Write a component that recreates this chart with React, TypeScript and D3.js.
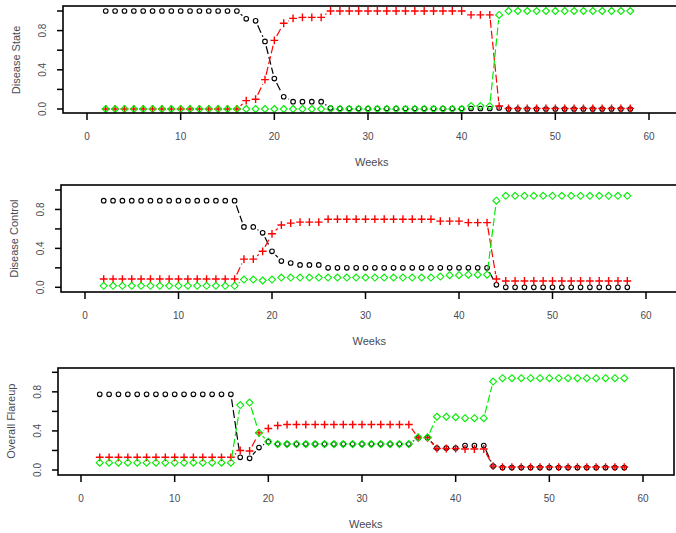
import React from 'react';
import * as d3 from 'd3';

// weeks of follow-up (x)
const weeks = [2, 3, 4, 5, 6, 7, 8, 9, 10, 11, 12, 13, 14, 15, 16, 17, 18, 19, 20, 21, 22, 23, 24, 25, 26, 27, 28, 29, 30,
    31, 32, 33, 34, 35, 36, 37, 38, 39, 40, 41, 42, 43, 44, 45, 46, 47, 48, 49, 50, 51, 52, 53, 54, 55, 56, 57, 58];

// Disease State
const stateBlack = [1, 1, 1, 1, 1, 1, 1, 1, 1, 1, 1, 1, 1, 1, 1, 0.92, 0.9, 0.69, 0.31, 0.125, 0.075, 0.075, 0.075, 0.075, 0.01,
    0.005, 0.005, 0.005, 0.005, 0.005, 0.005, 0.005, 0.005, 0.005, 0.005, 0.005, 0.005, 0.005, 0.005, 0.005, 0.005, 0.005, 0.01,
    0, 0, 0, 0, 0, 0, 0, 0, 0, 0, 0, 0, 0, 0];
const stateRed = [0, 0, 0, 0, 0, 0, 0, 0, 0, 0, 0, 0, 0, 0, 0, 0.085, 0.1, 0.3, 0.7, 0.875, 0.925, 0.935, 0.935, 0.935, 1,
    1, 1, 1, 1, 1, 1, 1, 1, 1, 1, 1, 1, 1, 1, 0.96, 0.96, 0.96, 0.03,
    0.005, 0.005, 0.005, 0.005, 0.005, 0.005, 0.005, 0.005, 0.005, 0.005, 0.005, 0.005, 0.005, 0.005];
const stateGreen = [0, 0, 0, 0, 0, 0, 0, 0, 0, 0, 0, 0, 0, 0, 0, 0, 0, 0, 0, 0, 0, 0, 0, 0, 0,
    0, 0, 0, 0, 0, 0, 0, 0, 0, 0, 0, 0, 0, 0, 0.03, 0.03, 0.03, 0.96,
    1, 1, 1, 1, 1, 1, 1, 1, 1, 1, 1, 1, 1, 1];

// Disease Control
const controlBlack = [0.89, 0.89, 0.89, 0.89, 0.89, 0.89, 0.89, 0.89, 0.89, 0.89, 0.89, 0.89, 0.89, 0.89, 0.89,
    0.62, 0.62, 0.56, 0.37, 0.27, 0.25, 0.23, 0.23, 0.23, 0.2,
    0.2, 0.2, 0.2, 0.2, 0.2, 0.2, 0.2, 0.2, 0.2, 0.2, 0.2, 0.2, 0.2, 0.2, 0.2, 0.2, 0.2, 0.025,
    0, 0, 0, 0, 0, 0, 0, 0, 0, 0, 0, 0, 0, 0];
const controlRed = [0.085, 0.085, 0.085, 0.085, 0.085, 0.085, 0.085, 0.085, 0.085, 0.085, 0.085, 0.085, 0.085, 0.085, 0.085,
    0.29, 0.29, 0.37, 0.55, 0.64, 0.66, 0.67, 0.67, 0.67, 0.7,
    0.7, 0.7, 0.7, 0.7, 0.7, 0.7, 0.7, 0.7, 0.7, 0.7, 0.7, 0.68, 0.68, 0.68, 0.665, 0.665, 0.665, 0.085,
    0.065, 0.065, 0.065, 0.065, 0.065, 0.065, 0.065, 0.065, 0.065, 0.065, 0.065, 0.065, 0.065, 0.065];
const controlGreen = [0.015, 0.015, 0.015, 0.015, 0.015, 0.015, 0.015, 0.015, 0.015, 0.015, 0.015, 0.015, 0.015, 0.015, 0.015,
    0.08, 0.08, 0.07, 0.08, 0.1, 0.1, 0.1, 0.1, 0.1, 0.1,
    0.1, 0.1, 0.1, 0.1, 0.1, 0.1, 0.1, 0.1, 0.1, 0.1, 0.1, 0.11, 0.125, 0.125, 0.13, 0.13, 0.13, 0.89,
    0.94, 0.94, 0.94, 0.94, 0.94, 0.94, 0.94, 0.94, 0.94, 0.94, 0.94, 0.94, 0.94, 0.94];

// Overall Flareup
const flareBlack = [0.775, 0.775, 0.775, 0.775, 0.775, 0.775, 0.775, 0.775, 0.775, 0.775, 0.775, 0.775, 0.775, 0.775, 0.775,
    0.13, 0.12, 0.23, 0.29, 0.265, 0.265, 0.265, 0.265, 0.265, 0.265,
    0.265, 0.265, 0.265, 0.265, 0.265, 0.265, 0.265, 0.265, 0.265, 0.33, 0.33, 0.225, 0.225, 0.225, 0.25, 0.25, 0.25, 0.04,
    0.025, 0.025, 0.025, 0.025, 0.025, 0.025, 0.025, 0.025, 0.025, 0.025, 0.025, 0.025, 0.025, 0.025];
const flareRed = [0.13, 0.13, 0.13, 0.13, 0.13, 0.13, 0.13, 0.13, 0.13, 0.13, 0.13, 0.13, 0.13, 0.13, 0.13,
    0.2, 0.195, 0.38, 0.425, 0.455, 0.465, 0.465, 0.465, 0.465, 0.465,
    0.465, 0.465, 0.465, 0.465, 0.465, 0.465, 0.465, 0.465, 0.465, 0.33, 0.33, 0.22, 0.22, 0.22, 0.215, 0.215, 0.215, 0.04,
    0.03, 0.03, 0.03, 0.03, 0.03, 0.03, 0.03, 0.03, 0.03, 0.03, 0.03, 0.03, 0.03, 0.03];
const flareGreen = [0.075, 0.075, 0.075, 0.075, 0.075, 0.075, 0.075, 0.075, 0.075, 0.075, 0.075, 0.075, 0.075, 0.075, 0.075,
    0.665, 0.69, 0.38, 0.29, 0.265, 0.265, 0.265, 0.265, 0.265, 0.265,
    0.265, 0.265, 0.265, 0.265, 0.265, 0.265, 0.265, 0.265, 0.265, 0.335, 0.335, 0.545, 0.545, 0.54, 0.53, 0.53, 0.53, 0.905,
    0.94, 0.94, 0.94, 0.94, 0.94, 0.94, 0.94, 0.94, 0.94, 0.94, 0.94, 0.94, 0.94, 0.94];

const xTicks = [0, 10, 20, 30, 40, 50, 60];
const yTicks = [0, 0.2, 0.4, 0.6, 0.8, 1];
const yTickLabels = ['0.0', '0.4', '0.8'];

const font = '"Liberation Sans", Arial, sans-serif';
const textColor = '#4a4a52';

// each panel is placed a little differently in the original scan
const panels = [
    {ylab: 'Disease State', series: [stateBlack, stateRed, stateGreen],
        box: {left: 63, top: 6, bottom: 113, right: 700}, xr: [87, 649], yr: [109, 11]},
    {ylab: 'Disease Control', series: [controlBlack, controlRed, controlGreen],
        box: {left: 61, top: 185, bottom: 292, right: 700}, xr: [85, 646], yr: [287.3, 190]},
    {ylab: 'Overall Flareup', series: [flareBlack, flareRed, flareGreen],
        box: {left: 58, top: 368, bottom: 475, right: 674}, xr: [81, 643], yr: [470, 372.3]},
];

const styles = [
    {color: '#000000', shape: 'circle'},
    {color: '#ff0000', shape: 'plus'},
    {color: '#00ee00', shape: 'diamond'},
];

// R type="b": segments are shortened so they stop short of the symbols
function gapSegments(pts, gap) {
    let segs = [];
    for (let i = 1; i < pts.length; i++) {
        let [x0, y0] = pts[i - 1], [x1, y1] = pts[i];
        let dx = x1 - x0, dy = y1 - y0, len = Math.hypot(dx, dy);
        if (len <= 2 * gap) continue;
        let f = gap / len;
        segs.push([x0 + dx * f, y0 + dy * f, x1 - dx * f, y1 - dy * f]);
    }
    return segs;
}

function marker(shape, x, y, color, key) {
    if (shape === 'circle') {
        return <circle key={key} cx={x} cy={y} r={2.3} fill='none' stroke={color} strokeWidth={1.1}/>;
    }
    if (shape === 'plus') {
        let s = 3.9;
        return <path key={key} d={`M${x - s},${y}H${x + s}M${x},${y - s}V${y + s}`}
            stroke={color} strokeWidth={1.4} fill='none'/>;
    }
    let s = 3.5;
    return <path key={key} d={`M${x},${y - s}L${x + s},${y}L${x},${y + s}L${x - s},${y}Z`}
        stroke={color} strokeWidth={1.1} fill='none'/>;
}

function Panel({p}) {
    let x = d3.scaleLinear().domain([0, 60]).range(p.xr);
    let y = d3.scaleLinear().domain([0, 1]).range(p.yr);
    let b = p.box;
    let midY = (y(0) + y(1)) / 2;

    return (
        <g>
            {p.series.map((vals, si) => {
                let st = styles[si];
                let pts = weeks.map((w, i) => [x(w), y(vals[i])]);
                let segs = gapSegments(pts, 5);
                return (
                    <g key={si}>
                        {segs.map((s, i) =>
                            <line key={'l' + i} x1={s[0]} y1={s[1]} x2={s[2]} y2={s[3]}
                                stroke={st.color} strokeWidth={1.2} strokeDasharray='8 3'/>)}
                        {pts.map((pt, i) => marker(st.shape, pt[0], pt[1], st.color, 'm' + i))}
                    </g>
                );
            })}

            <rect x={b.left} y={b.top} width={b.right - b.left} height={b.bottom - b.top}
                fill='none' stroke='#000' strokeWidth={1.6}/>

            {xTicks.map(t =>
                <g key={'x' + t}>
                    <line x1={x(t)} x2={x(t)} y1={b.bottom} y2={b.bottom + 7} stroke='#000' strokeWidth={1.5}/>
                    <text x={x(t)} y={b.bottom + 27} textAnchor='middle' fontFamily={font} fontSize={10}
                        fill={textColor}>{t}</text>
                </g>
            )}
            {yTicks.map(t =>
                <line key={'y' + t} x1={b.left - 6} x2={b.left} y1={y(t)} y2={y(t)} stroke='#000' strokeWidth={1.5}/>
            )}
            {yTickLabels.map(l =>
                <text key={'yl' + l} transform={`translate(${b.left - 17},${y(+l)}) rotate(-90)`}
                    textAnchor='middle' fontFamily={font} fontSize={10} fill={textColor}>{l}</text>
            )}

            <text x={x(30.4)} y={b.bottom + 53} textAnchor='middle' fontFamily={font} fontSize={11}
                fill={textColor}>Weeks</text>
            <text transform={`translate(${b.left - 43},${midY}) rotate(-90)`} textAnchor='middle'
                fontFamily={font} fontSize={11} fill={textColor}>{p.ylab}</text>
        </g>
    );
}

export default function App() {
    return (
        <svg width={676} height={533} style={{position: 'absolute', left: 0, top: 0, background: '#fff'}}>
            <rect width={676} height={533} fill='#fff'/>
            {panels.map((p, i) => <Panel key={i} p={p}/>)}
        </svg>
    );
}
